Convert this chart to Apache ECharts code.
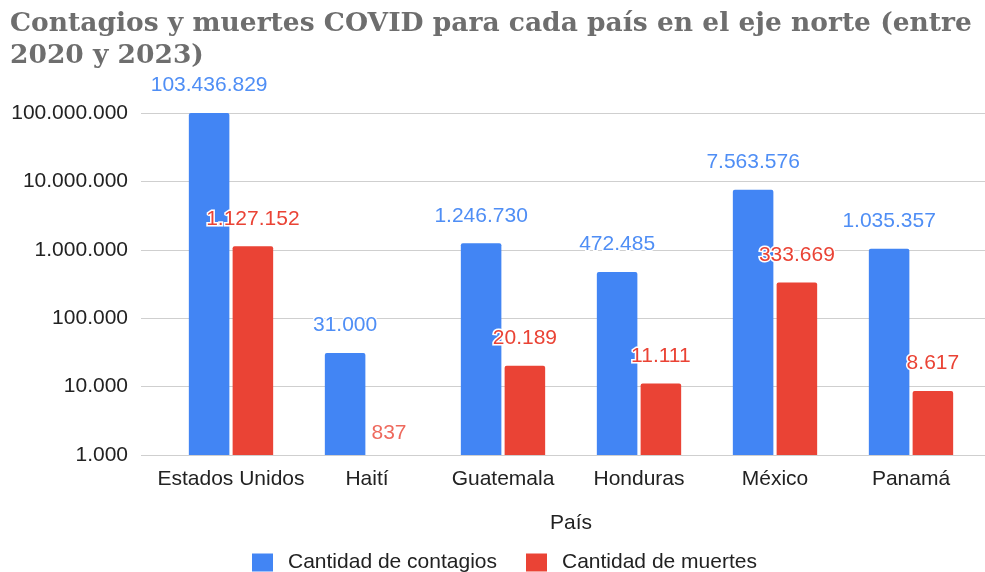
<!DOCTYPE html>
<html>
<head>
<meta charset="utf-8">
<script src="https://cdn.jsdelivr.net/npm/echarts@6/dist/echarts.min.js"></script>
<style>
  html, body { margin: 0; padding: 0; background: #fff; }
  #chart { width: 985px; height: 572px; }
</style>
</head>
<body>
<div id="chart"></div>
<script>
// datos
var paises = ['Estados Unidos', 'Haití', 'Guatemala', 'Honduras', 'México', 'Panamá'];
var contagios = [103436829, 31000, 1246730, 472485, 7563576, 1035357];
var muertes = [1127152, 837, 20189, 11111, 333669, 8617];
var ticksY = [1000, 10000, 100000, 1000000, 10000000, 100000000];

function puntos(v) {
    return String(Math.round(v)).replace(/\B(?=(\d{3})+(?!\d))/g, '.');
}

var fuente = 'Liberation Sans, Arial, sans-serif';

function etiqueta(color) {
    return {
        show: true,
        position: 'top',
        distance: 17,
        fontFamily: fuente,
        fontSize: 21,
        color: color,
        textBorderColor: '#fff',
        textBorderWidth: 3,
        formatter: function (p) { return puntos(p.value); }
    };
}

var chart = echarts.init(document.getElementById('chart'));
chart.setOption({
    animation: false,
    title: {
        text: 'Contagios y muertes COVID para cada país en el eje norte (entre\n2020 y 2023)',
        left: 5,
        top: 3,
        textStyle: {
            fontFamily: 'DejaVu Serif, serif',
            fontWeight: 'bold',
            fontSize: 26.5,
            lineHeight: 32,
            color: '#6e6e6e'
        }
    },
    legend: {
        data: ['Cantidad de contagios', 'Cantidad de muertes'],
        left: 252,
        top: 552,
        padding: 0,
        itemWidth: 21,
        itemHeight: 18,
        itemGap: 29,
        icon: 'rect',
        textStyle: {
            fontFamily: fuente,
            fontSize: 21,
            color: '#222',
            padding: [0, 0, 0, 10]
        }
    },
    // grid 0: lineas de division y etiquetas del eje Y (mas ancho)
    // grid 1: barras y categorias
    grid: [
        { left: 141, right: 0, top: 113, bottom: 117 },
        { left: 163, right: 6, top: 113, bottom: 117 }
    ],
    xAxis: [
        { type: 'value', gridIndex: 0, min: 0, max: 1, show: false },
        {
            type: 'category',
            gridIndex: 1,
            data: paises,
            name: 'País',
            nameLocation: 'middle',
            nameGap: 58,
            nameTextStyle: { fontFamily: fuente, fontSize: 21, color: '#222' },
            axisTick: { show: false },
            axisLine: { show: false },
            axisLabel: { interval: 0, fontFamily: fuente, fontSize: 21, color: '#222', margin: 14 }
        }
    ],
    yAxis: [
        {
            type: 'log',
            gridIndex: 0,
            logBase: 10,
            min: ticksY[0],
            max: ticksY[ticksY.length - 1],
            axisLine: { show: false },
            axisTick: { show: false },
            splitLine: { lineStyle: { color: '#cfcfcf' } },
            axisLabel: {
                fontFamily: fuente,
                fontSize: 21,
                color: '#222',
                margin: 13,
                formatter: puntos
            }
        },
        {
            type: 'log',
            gridIndex: 1,
            logBase: 10,
            min: ticksY[0],
            max: ticksY[ticksY.length - 1],
            show: false
        }
    ],
    series: [
        {
            name: 'Cantidad de contagios',
            type: 'bar',
            xAxisIndex: 1,
            yAxisIndex: 1,
            data: contagios,
            barGap: '8%',
            barCategoryGap: '38%',
            itemStyle: { color: '#4285f4', borderRadius: [2, 2, 0, 0] },
            label: etiqueta('#4f8ef5')
        },
        {
            name: 'Cantidad de muertes',
            type: 'bar',
            xAxisIndex: 1,
            yAxisIndex: 1,
            data: muertes,
            itemStyle: { color: '#ea4335', borderRadius: [2, 2, 0, 0] },
            label: etiqueta('#ea4335')
        },
        {
            // valores por debajo del minimo del eje (837): la barra no se ve, solo la etiqueta
            type: 'scatter',
            xAxisIndex: 1,
            yAxisIndex: 1,
            clip: false,
            symbolSize: 0,
            data: muertes.map(function (v) { return v < ticksY[0] ? v : '-'; }),
            label: Object.assign(etiqueta('#ea4335'), { offset: [22, 0] })
        }
    ]
});
</script>
</body>
</html>
